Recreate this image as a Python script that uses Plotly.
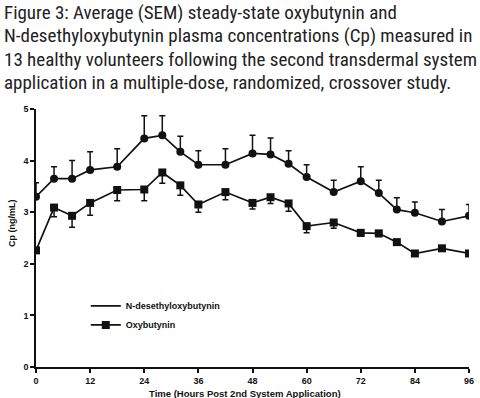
import plotly.graph_objects as go

hours = [0, 4, 8, 12, 18, 24, 28, 32, 36, 42, 48, 52, 56, 60, 66, 72, 76, 80, 84, 90, 96]
desethyl = [3.30, 3.65, 3.65, 3.82, 3.88, 4.43, 4.49, 4.17, 3.92, 3.92, 4.14, 4.12, 3.94,
            3.68, 3.39, 3.60, 3.37, 3.05, 2.99, 2.82, 2.93]
desethyl_sem = [0.27, 0.23, 0.35, 0.35, 0.35, 0.44, 0.38, 0.30, 0.27, 0.31, 0.35, 0.32, 0.25,
                0.24, 0.23, 0.28, 0.25, 0.23, 0.21, 0.23, 0.22]
oxy = [2.26, 3.09, 2.93, 3.18, 3.43, 3.44, 3.77, 3.52, 3.15, 3.39, 3.18, 3.29, 3.17,
       2.73, 2.80, 2.60, 2.59, 2.42, 2.20, 2.30, 2.20]
oxy_sem = [0.05, 0.18, 0.22, 0.24, 0.21, 0.22, 0.21, 0.19, 0.15, 0.15, 0.12, 0.12, 0.15,
           0.13, 0.11, 0.06, 0.06, 0.06, 0.05, 0.05, 0.05]
x_ticks = [0, 12, 24, 36, 48, 60, 72, 84, 96]
y_ticks = [0, 1, 2, 3, 4, 5]

title_lines = [
    "Figure 3: Average (SEM) steady-state oxybutynin and",
    "N-desethyloxybutynin plasma concentrations (Cp) measured in",
    "13 healthy volunteers following the second transdermal system",
    "application in a multiple-dose, randomized, crossover study.",
]

INK = "#111111"
BOLD = dict(family="Liberation Sans, Arial, sans-serif", size=9, color=INK, weight="bold")
BOLD_T = dict(family="Liberation Sans, Arial, sans-serif", size=9.5, color=INK, weight="bold")

fig = go.Figure()
fig.add_trace(go.Scatter(
    x=hours, y=desethyl, mode="lines+markers", showlegend=False,
    line=dict(color=INK, width=1.7),
    marker=dict(symbol="circle", size=8, color=INK),
    error_y=dict(type="data", symmetric=False, array=desethyl_sem,
                 arrayminus=[0] * len(desethyl_sem), color=INK, thickness=1.5, width=3),
))
fig.add_trace(go.Scatter(
    x=hours, y=oxy, mode="lines+markers", showlegend=False,
    line=dict(color=INK, width=1.7),
    marker=dict(symbol="square", size=8, color=INK),
    error_y=dict(type="data", symmetric=False, array=[0] * len(oxy_sem),
                 arrayminus=oxy_sem, color=INK, thickness=1.5, width=3),
))
# legend entries
fig.add_trace(go.Scatter(x=[None], y=[None], mode="lines", name="N-desethyloxybutynin",
                         line=dict(color=INK, width=1.7)))
fig.add_trace(go.Scatter(x=[None], y=[None], mode="lines+markers", name="Oxybutynin",
                         line=dict(color=INK, width=1.7),
                         marker=dict(symbol="square", size=8, color=INK)))

annotations = []
for i, line in enumerate(title_lines):
    py = [12, 36, 59, 82][i]
    annotations.append(dict(
        text=line, xref="paper", yref="paper", x=-34 / 433, y=1 + (109 - py) / 258,
        xanchor="left", yanchor="middle", align="left", showarrow=False,
        font=dict(family="Roboto Condensed, Liberation Sans Narrow, Arial Narrow, sans-serif",
                  size=19, color="#222222")))
annotations.append(dict(
    text="Cp (ng/mL)", xref="paper", yref="paper", x=-24 / 433, y=144 / 258,
    xanchor="center", yanchor="middle", textangle=-90, showarrow=False, font=BOLD))
annotations.append(dict(
    text="Time (Hours Post 2nd System Application)", xref="paper", yref="paper",
    x=(245 - 36) / 433, y=-(393 - 367) / 258, xanchor="center", yanchor="middle",
    showarrow=False, font=BOLD_T))

fig.update_layout(
    width=480, height=398,
    margin=dict(l=36, r=11, t=109, b=31),
    paper_bgcolor="white", plot_bgcolor="white",
    font=dict(family="Liberation Sans, Arial, sans-serif", size=9, color=INK),
    showlegend=True,
    legend=dict(x=0.115, y=0.2, xanchor="left", yanchor="middle",
                font=dict(family="Liberation Sans, Arial, sans-serif", size=9, color=INK,
                          weight="bold"),
                bgcolor="rgba(0,0,0,0)", itemwidth=30, tracegroupgap=0),
    xaxis=dict(range=[0, 96], tickvals=x_ticks, ticktext=[str(v) for v in x_ticks],
               showgrid=False, zeroline=False, showline=True, linecolor=INK, linewidth=1.6,
               ticks="outside", ticklen=4, tickwidth=1.5, tickcolor=INK,
               tickfont=BOLD,
               automargin=False, fixedrange=True),
    yaxis=dict(range=[0, 5], tickvals=y_ticks, ticktext=[str(v) for v in y_ticks],
               showgrid=False, zeroline=False, showline=True, linecolor=INK, linewidth=1.6,
               ticks="outside", ticklen=4, tickwidth=1.5, tickcolor=INK,
               tickfont=BOLD,
               automargin=False, fixedrange=True),
    annotations=annotations,
)
fig.write_html("out.html", config={"displayModeBar": False},
               post_script="document.body.style.margin='0';")
